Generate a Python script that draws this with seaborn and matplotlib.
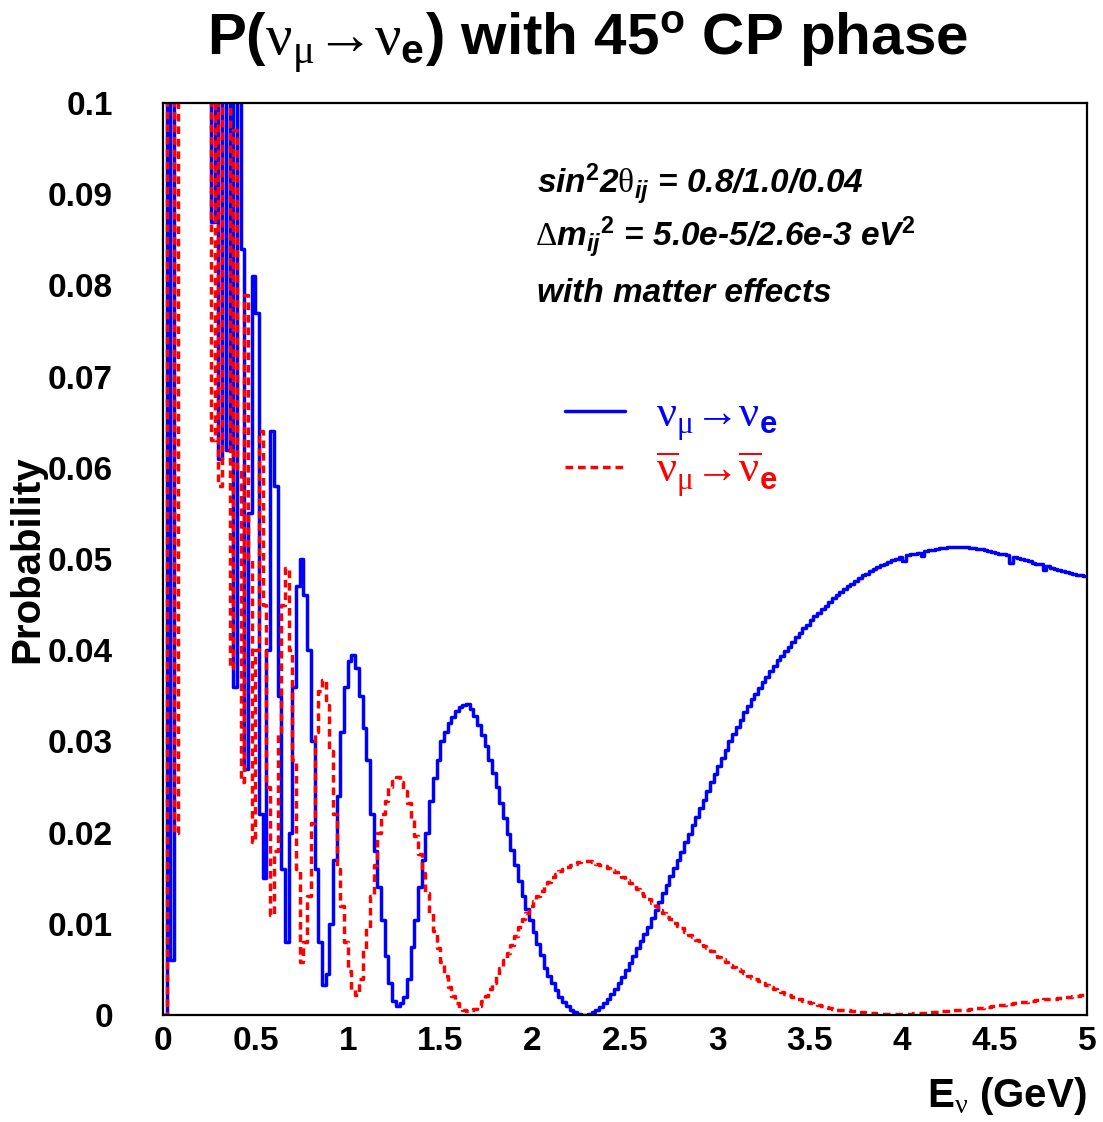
import numpy as np
import pandas as pd
import seaborn as sns
import matplotlib.pyplot as plt
from matplotlib.ticker import FixedLocator, MultipleLocator

bin_width = 0.02  # GeV, histogram binning 0..5 GeV

# P(nu_mu -> nu_e), one value per bin (values above 0.1 run off the frame)
p_nu = [
    0.0, 0.2, 0.006, 0.2, 0.2, 0.2, 0.2, 0.2, 0.2, 0.2,
    0.2, 0.2, 0.2, 0.087, 0.2, 0.061, 0.2, 0.062, 0.2, 0.036,
    0.105, 0.084, 0.027, 0.055, 0.081, 0.077, 0.022, 0.015, 0.040, 0.064,
    0.058, 0.035, 0.016, 0.008, 0.020, 0.036, 0.047, 0.050, 0.046, 0.040,
    0.030, 0.016, 0.008, 0.0033, 0.0045, 0.010, 0.017, 0.024, 0.031, 0.036,
    0.0388, 0.0395, 0.038, 0.035, 0.0315, 0.028, 0.022, 0.018, 0.014, 0.0104,
    0.0065, 0.0035, 0.0015, 0.001, 0.0013, 0.002, 0.004, 0.0075, 0.0104, 0.014,
    0.017, 0.020, 0.0235, 0.026, 0.028, 0.030, 0.031, 0.032, 0.0327, 0.0333,
    0.0338, 0.034, 0.0341, 0.0336, 0.0328, 0.0318, 0.0307, 0.0295, 0.028, 0.0265,
    0.025, 0.0233, 0.0216, 0.0198, 0.0181, 0.0164, 0.0147, 0.0131, 0.0116, 0.0104,
    0.0091, 0.0078, 0.0066, 0.0052, 0.0043, 0.0035, 0.0027, 0.002, 0.0014, 0.001,
    0.0006, 0.0003, 0.0001, 0.0, 0.0, 0.0001, 0.0003, 0.0006, 0.0009, 0.0013,
    0.0018, 0.0023, 0.0029, 0.0035, 0.0042, 0.0049, 0.0057, 0.0065, 0.0073, 0.0081,
    0.0089, 0.0097, 0.0106, 0.0115, 0.0124, 0.0134, 0.0143, 0.0152, 0.0161, 0.017,
    0.0179, 0.019, 0.0199, 0.0208, 0.0217, 0.0227, 0.0236, 0.0246, 0.0255, 0.0264,
    0.0273, 0.0282, 0.0291, 0.03, 0.0308, 0.0316, 0.0324, 0.0332, 0.0339, 0.0346,
    0.0352, 0.0359, 0.0365, 0.0371, 0.0377, 0.0383, 0.0389, 0.0394, 0.0399, 0.0404,
    0.0409, 0.0414, 0.0419, 0.0424, 0.0428, 0.0433, 0.0437, 0.0441, 0.0445, 0.0449,
    0.0453, 0.0457, 0.046, 0.0464, 0.0467, 0.047, 0.0473, 0.0476, 0.0479, 0.0482,
    0.0484, 0.0487, 0.0489, 0.0491, 0.0493, 0.0495, 0.0497, 0.0499, 0.05, 0.0502,
    0.0498, 0.0504, 0.0505, 0.0506, 0.0507, 0.0503, 0.0509, 0.051, 0.051, 0.0511,
    0.0512, 0.0512, 0.0513, 0.0513, 0.0513, 0.0513, 0.0513, 0.0513, 0.0512, 0.0512,
    0.0511, 0.0511, 0.051, 0.0509, 0.0508, 0.0507, 0.0506, 0.0505, 0.0504, 0.0496,
    0.0502, 0.0501, 0.05, 0.0499, 0.0498, 0.0496, 0.0495, 0.0494, 0.0488, 0.0492,
    0.049, 0.0489, 0.0488, 0.0487, 0.0486, 0.0485, 0.0484, 0.0483, 0.0482, 0.0481,
]

# P(anti-nu_mu -> anti-nu_e)
p_nubar = [
    0.0, 0.2, 0.2, 0.020, 0.2, 0.2, 0.2, 0.2, 0.2, 0.2,
    0.2, 0.2, 0.2, 0.063, 0.2, 0.058, 0.12, 0.11, 0.038, 0.097,
    0.060, 0.0255, 0.079, 0.050, 0.019, 0.040, 0.064, 0.045, 0.025, 0.011,
    0.018, 0.031, 0.045, 0.049, 0.040, 0.028, 0.016, 0.0058, 0.008, 0.013,
    0.021, 0.031, 0.0355, 0.0367, 0.034, 0.029, 0.022, 0.016, 0.012, 0.008,
    0.0048, 0.0027, 0.0022, 0.004, 0.0072, 0.0095, 0.013, 0.0165, 0.020, 0.022,
    0.0235, 0.025, 0.0257, 0.0261, 0.0255, 0.0246, 0.0232, 0.0215, 0.0196, 0.0176,
    0.0156, 0.0134, 0.0112, 0.0092, 0.0074, 0.0058, 0.0043, 0.0031, 0.0021, 0.0013,
    0.0008, 0.0005, 0.0004, 0.0005, 0.0007, 0.001, 0.0015, 0.0021, 0.0028, 0.0035,
    0.0043, 0.0051, 0.006, 0.0068, 0.0077, 0.0087, 0.0097, 0.0105, 0.0112, 0.0119,
    0.0125, 0.013, 0.0136, 0.0141, 0.0146, 0.0151, 0.0155, 0.0158, 0.016, 0.0162,
    0.0164, 0.0166, 0.0168, 0.0169, 0.0169, 0.0169, 0.0168, 0.0166, 0.0165, 0.0163,
    0.0161, 0.0159, 0.0157, 0.0154, 0.0151, 0.0148, 0.0145, 0.0142, 0.0138, 0.0134,
    0.0131, 0.0127, 0.0123, 0.0119, 0.0115, 0.0112, 0.0108, 0.0105, 0.0101, 0.0098,
    0.0095, 0.0091, 0.0088, 0.0085, 0.0082, 0.0079, 0.0076, 0.0073, 0.007, 0.0067,
    0.0064, 0.0061, 0.0058, 0.0055, 0.0053, 0.005, 0.0048, 0.0046, 0.0043, 0.0041,
    0.0039, 0.0037, 0.0035, 0.0033, 0.0031, 0.0029, 0.0027, 0.0025, 0.0023, 0.0022,
    0.002, 0.0018, 0.0017, 0.0015, 0.0014, 0.0013, 0.0012, 0.0011, 0.001, 0.0009,
    0.0008, 0.0007, 0.0006, 0.0006, 0.0005, 0.0005, 0.0004, 0.0004, 0.0003, 0.0003,
    0.0002, 0.0002, 0.0002, 0.0001, 0.0001, 0.0001, 0.0001, 0.0001, 0.0001, 0.0001,
    0.0001, 0.0001, 0.0001, 0.0002, 0.0002, 0.0002, 0.0002, 0.0003, 0.0003, 0.0003,
    0.0004, 0.0004, 0.0004, 0.0005, 0.0005, 0.0005, 0.0006, 0.0006, 0.0007, 0.0007,
    0.0008, 0.0008, 0.0009, 0.0009, 0.001, 0.001, 0.0011, 0.0011, 0.0012, 0.0012,
    0.0013, 0.0013, 0.0014, 0.0014, 0.0015, 0.0015, 0.0016, 0.0016, 0.0017, 0.0017,
    0.0018, 0.0018, 0.0019, 0.0019, 0.002, 0.002, 0.0021, 0.0021, 0.0022, 0.0022,
]

xtick_vals = [0, 0.5, 1, 1.5, 2, 2.5, 3, 3.5, 4, 4.5, 5]
xtick_labels = ["0", "0.5", "1", "1.5", "2", "2.5", "3", "3.5", "4", "4.5", "5"]
ytick_vals = [0, 0.01, 0.02, 0.03, 0.04, 0.05, 0.06, 0.07, 0.08, 0.09, 0.1]
ytick_labels = ["0", "0.01", "0.02", "0.03", "0.04", "0.05", "0.06", "0.07",
                "0.08", "0.09", "0.1"]

# unicode arrow inside mathtext -> no relation spacing around it
label_nu = r"$\mathsf{\nu}_{\mathsf{\mu}}\mathsf{→}\mathsf{\nu}_{\mathbf{e}}$"
label_nubar = (r"$\overline{\mathsf{\nu}}_{\mathsf{\mu}}\mathsf{→}"
               r"\overline{\mathsf{\nu}}_{\mathbf{e}}$")

# step histogram: left bin edges plus the closing right edge
edges = np.round(np.arange(len(p_nu) + 1) * bin_width, 2)
df_nu = pd.DataFrame({"E": edges, "P": p_nu + [p_nu[-1]]})
df_nubar = pd.DataFrame({"E": edges, "P": p_nubar + [p_nubar[-1]]})

sns.set_theme(style="white")
plt.rcParams["font.family"] = ["Liberation Sans", "DejaVu Sans"]
plt.rcParams["font.weight"] = "bold"
plt.rcParams["text.color"] = "black"
plt.rcParams["axes.labelcolor"] = "black"
plt.rcParams["xtick.color"] = "black"
plt.rcParams["ytick.color"] = "black"
plt.rcParams["mathtext.fontset"] = "custom"
plt.rcParams["mathtext.rm"] = "Liberation Sans:bold"
plt.rcParams["mathtext.bf"] = "Liberation Sans:bold"
plt.rcParams["mathtext.it"] = "Liberation Sans:italic:bold"
plt.rcParams["mathtext.sf"] = "Liberation Serif:normal"

fig = plt.figure(figsize=(11.03, 11.22), dpi=100)
ax = fig.add_axes([163 / 1103, 107 / 1122, 924 / 1103, 912 / 1122])

sns.lineplot(data=df_nu, x="E", y="P", ax=ax, color="#0000ff", lw=2.5,
             drawstyle="steps-post", estimator=None, label=label_nu)
sns.lineplot(data=df_nubar, x="E", y="P", ax=ax, color="#ff0000", lw=2.5,
             drawstyle="steps-post", estimator=None, label=label_nubar,
             linestyle=(0, (2.2, 1.4)))

ax.set_xlim(0, 5)
ax.set_ylim(0, 0.1)

ax.xaxis.set_major_locator(FixedLocator(xtick_vals))
ax.set_xticklabels(xtick_labels)
ax.xaxis.set_minor_locator(MultipleLocator(0.1))
ax.yaxis.set_major_locator(FixedLocator(ytick_vals))
ax.set_yticklabels(ytick_labels)
ax.yaxis.set_minor_locator(MultipleLocator(0.002))

ax.tick_params(which="both", direction="in", top=False, right=False,
               width=1.1, color="black", labelcolor="black", labelsize=24)
ax.tick_params(which="major", length=14)
ax.tick_params(which="minor", length=7)
ax.tick_params(axis="y", which="major", pad=36)
ax.tick_params(axis="x", which="major", pad=8)
for s in ax.spines.values():
    s.set_color("black")
    s.set_linewidth(1.6)

ax.set_ylabel("Probability", fontsize=29, fontweight="bold", color="black")
ax.yaxis.set_label_coords(-0.126, 0.5)
ax.set_xlabel(r"E$_{\mathsf{\nu}}$ (GeV)", fontsize=29, fontweight="bold",
              color="black")
ax.xaxis.label.set_ha("right")
ax.xaxis.set_label_coords(1.0, -0.066)

leg = ax.legend(loc="upper left", bbox_to_anchor=(0.435, 0.680), frameon=False,
                fontsize=32, handlelength=1.35, handletextpad=0.7,
                labelspacing=0.14, borderaxespad=0, borderpad=0,
                labelcolor="linecolor")

ax.text(0.405, 0.901,
        r"sin$^{\mathit{2}}$2$\mathsf{\theta}_{\mathit{ij}}$ = 0.8/1.0/0.04",
        transform=ax.transAxes, fontsize=24, fontstyle="italic",
        fontweight="bold", va="baseline")
ax.text(0.403, 0.842,
        r"$\mathsf{\Delta}$m$_{\mathit{ij}}$$^{\mathit{2}}$ = 5.0e-5/2.6e-3 eV$^{\mathit{2}}$",
        transform=ax.transAxes, fontsize=24, fontstyle="italic",
        fontweight="bold", va="baseline")
ax.text(0.405, 0.782, "with matter effects",
        transform=ax.transAxes, fontsize=24, fontstyle="italic",
        fontweight="bold", va="baseline")

fig.text(588 / 1103, 1 - 55 / 1122,
         r"P($\mathsf{\nu}_{\mathsf{\mu}}\mathsf{→}\mathsf{\nu}_{\mathbf{e}}$) with 45$^{\mathbf{o}}$ CP phase",
         ha="center", va="baseline", fontsize=42, fontweight="bold")

fig.savefig("out.png", dpi=100)
